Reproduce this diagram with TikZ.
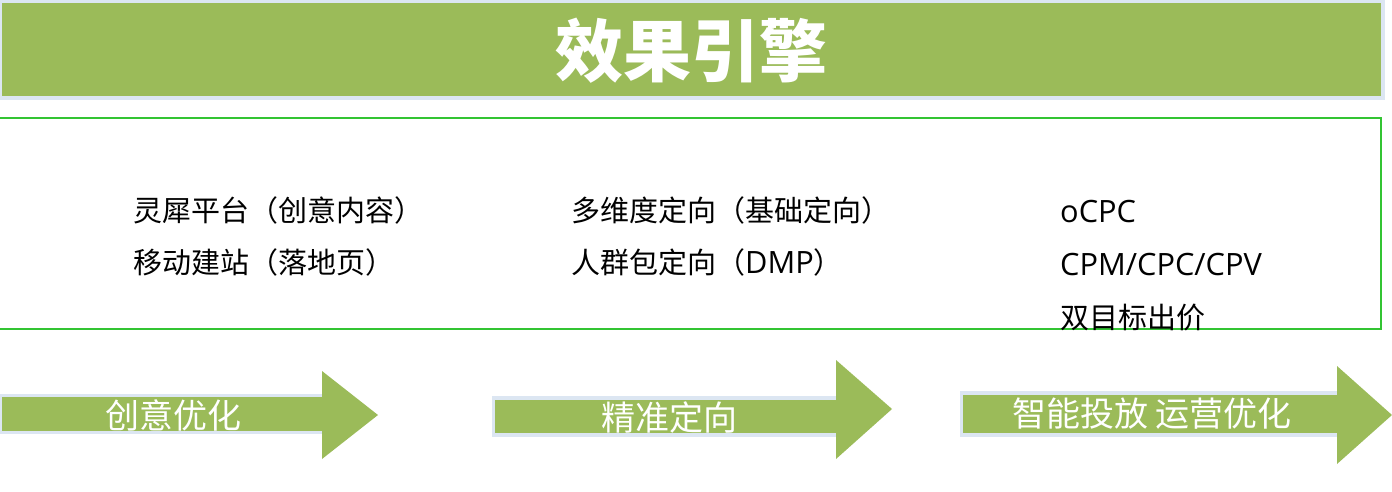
\documentclass[tikz,border=0pt]{standalone}
\usepackage{fontspec}
\setmainfont{Noto Sans CJK SC}
\newfontfamily\latinfont{Open Sans}[Scale=1.06]
\definecolor{barGreen}{HTML}{9BBB59}
\definecolor{paleEdge}{HTML}{DCE6F2}
\definecolor{boxLine}{HTML}{33C433}
\tikzset{
  bodytext/.style={anchor=base west,inner sep=0pt,font=\fontsize{29}{34}\selectfont,text=black},
  arrowtext/.style={anchor=base,inner sep=0pt,font=\fontsize{34}{40}\selectfont,text=white},
  shaftedge/.style={fill=paleEdge},
  shaftfill/.style={fill=barGreen},
}
\begin{document}
\begin{tikzpicture}[x=1pt,y=-1pt]
\useasboundingbox (0,0) rectangle (1392,491);
% title bar
\fill[paleEdge] (0,0) rectangle (1385,100);
\fill[barGreen] (2,3) rectangle (1381,96);
\node[anchor=base,inner sep=0pt,text=white,font=\fontsize{68}{72}\selectfont\bfseries] (title) at (691,76) {效果引擎};
% content box
\draw[boxLine,line width=1.4pt] (-2,118) rectangle (1381,329);
\node[bodytext] (a1) at (133,221) {灵犀平台（创意内容）};
\node[bodytext] (a2) at (133,273) {移动建站（落地页）};
\node[bodytext] (b1) at (571,221) {多维度定向（基础定向）};
\node[bodytext] (b2) at (571,273) {人群包定向（{\latinfont DMP}）};
\node[bodytext] (c1) at (1060,222) {\latinfont oCPC};
\node[bodytext] (c2) at (1060,275) {\latinfont CPM/CPC/CPV};
\node[bodytext] (c3) at (1060,328) {双目标出价};
% arrow 1
\fill[shaftedge] (0,394) rectangle (322,434);
\fill[shaftfill] (2,397) rectangle (322,431);
\fill[shaftfill] (322,371) -- (378,415) -- (322,459) -- cycle;
\node[arrowtext] (d1) at (173,428) {创意优化};
% arrow 2
\fill[shaftedge] (492,396) rectangle (836,437);
\fill[shaftfill] (495,400) rectangle (836,433);
\fill[shaftfill] (836,360) -- (892,409) -- (836,459) -- cycle;
\node[arrowtext] (d2) at (669,430) {精准定向};
% arrow 3
\fill[shaftedge] (960,391) rectangle (1337,437);
\fill[shaftfill] (963,395) rectangle (1337,433);
\fill[shaftfill] (1337,366) -- (1392,415) -- (1337,464) -- cycle;
\node[arrowtext] (d3) at (1152,426) {智能投放 运营优化};
\end{tikzpicture}
\end{document}
